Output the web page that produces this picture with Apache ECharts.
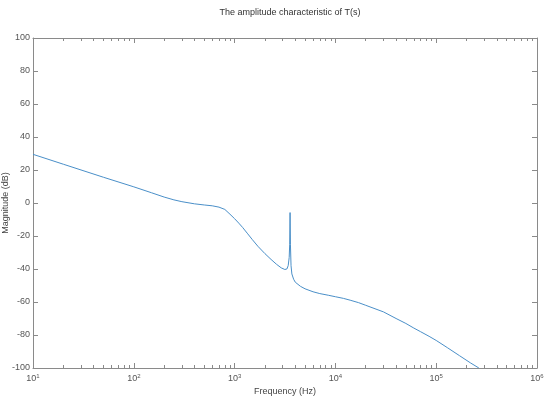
<!DOCTYPE html>
<html>
<head>
<meta charset="utf-8">
<script src="https://cdn.jsdelivr.net/npm/echarts@6/dist/echarts.min.js"></script>
<style>html,body{margin:0;padding:0;background:#fff}#c{width:550px;height:400px}</style>
</head>
<body>
<div id="c"></div>
<script>
// Frequency (Hz) and magnitude (dB)
const freq = [10, 20, 50, 100, 150, 200, 250, 300, 400, 500, 600, 700, 800, 900, 1000, 1100, 1200, 1350, 1500, 1700, 2000, 2300, 2600, 2900, 3150, 3300, 3400, 3480, 3520, 3550, 3580, 3630, 3700, 3850, 4000, 4500, 5000, 6000, 7000, 8500, 10000, 12000, 14000, 17000, 20000, 30000, 40000, 50000, 60000, 70000, 85000, 100000, 130000, 170000, 220000, 265000];
const magDb = [29.5, 23.5, 15.6, 9.8, 6.2, 3.6, 1.9, 0.8, -0.5, -1.2, -1.7, -2.5, -3.9, -6.8, -9.5, -12.2, -14.8, -18.7, -22.2, -26.2, -30.7, -34.2, -37.1, -39.3, -40.3, -40, -38, -33, -25, -5.8, -25, -38, -43, -46.2, -48, -50.5, -52, -53.8, -54.9, -55.9, -56.8, -57.8, -58.9, -60.4, -62, -66, -70, -73, -75.8, -78, -80.8, -83.3, -87.8, -92.5, -97, -100];
const minorTicks = [20,30,40,50,60,70,80,90,200,300,400,500,600,700,800,900,2000,3000,4000,5000,6000,7000,8000,9000,20000,30000,40000,50000,60000,70000,80000,90000,200000,300000,400000,500000,600000,700000,800000,900000];
const titleText = 'The amplitude characteristic of T(s)';
const xName = 'Frequency (Hz)';
const yName = 'Magnitude (dB)';

const axisColor = '#8a8a8a';
const labelColor = '#555';
const font = 'Liberation Sans, Arial, sans-serif';

function xAxisDef(position, tickVals, len, showLabel, showLine, extra) {
  const a = {
    type: 'log', logBase: 10, min: 10, max: 1000000, position: position,
    axisLine: { show: showLine, onZero: false, lineStyle: { color: axisColor, width: 1 } },
    axisTick: { show: true, inside: true, length: len, lineStyle: { color: axisColor } },
    axisLabel: { show: showLabel },
    splitLine: { show: false }
  };
  if (tickVals) a.axisTick.customValues = tickVals;
  return Object.assign(a, extra || {});
}

const chart = echarts.init(document.getElementById('c'), null, { renderer: 'canvas' });
chart.setOption({
  animation: false,
  backgroundColor: '#fff',
  title: {
    text: titleText, left: 285, top: 3, textAlign: 'center',
    textStyle: { fontSize: 9, fontWeight: 'normal', color: '#333', fontFamily: font }
  },
  grid: { left: 33, right: 13, top: 38, bottom: 32, containLabel: false, outerBoundsMode: 'none' },
  xAxis: [
    xAxisDef('bottom', null, 5, true, true, {
      name: xName, nameLocation: 'middle', nameGap: 19, nameMoveOverlap: false,
      nameTextStyle: { fontSize: 9, color: '#444', fontFamily: font },
      axisLabel: {
        show: true, margin: 5, color: labelColor, fontFamily: font, fontSize: 9,
        formatter: function (v) { return '10{sup|' + Math.round(Math.log10(v)) + '}'; },
        rich: { sup: { fontSize: 6, verticalAlign: 'top', padding: [0, 0, 5, 0], color: labelColor, fontFamily: font } }
      }
    }),
    xAxisDef('bottom', minorTicks, 3, false, false),
    xAxisDef('top', null, 5, false, true),
    xAxisDef('top', minorTicks, 3, false, false)
  ],
  yAxis: [
    {
      type: 'value', min: -100, max: 100, interval: 20, position: 'left',
      name: yName, nameLocation: 'middle', nameGap: 23, nameMoveOverlap: false,
      nameTextStyle: { fontSize: 9, color: '#444', fontFamily: font },
      axisLine: { show: true, onZero: false, lineStyle: { color: axisColor } },
      axisTick: { show: true, inside: true, length: 5, lineStyle: { color: axisColor } },
      axisLabel: { color: labelColor, fontSize: 9, fontFamily: font, margin: 3 },
      splitLine: { show: false }
    },
    {
      type: 'value', min: -100, max: 100, interval: 20, position: 'right',
      axisLine: { show: true, onZero: false, lineStyle: { color: axisColor } },
      axisTick: { show: true, inside: true, length: 5, lineStyle: { color: axisColor } },
      axisLabel: { show: false },
      splitLine: { show: false }
    }
  ],
  series: [{
    type: 'line',
    xAxisIndex: 0, yAxisIndex: 0,
    data: freq.map((f, i) => [f, magDb[i]]),
    showSymbol: false, smooth: false,
    lineStyle: { color: '#4a8fc8', width: 1 },
    clip: true
  }]
});
</script>
</body>
</html>
